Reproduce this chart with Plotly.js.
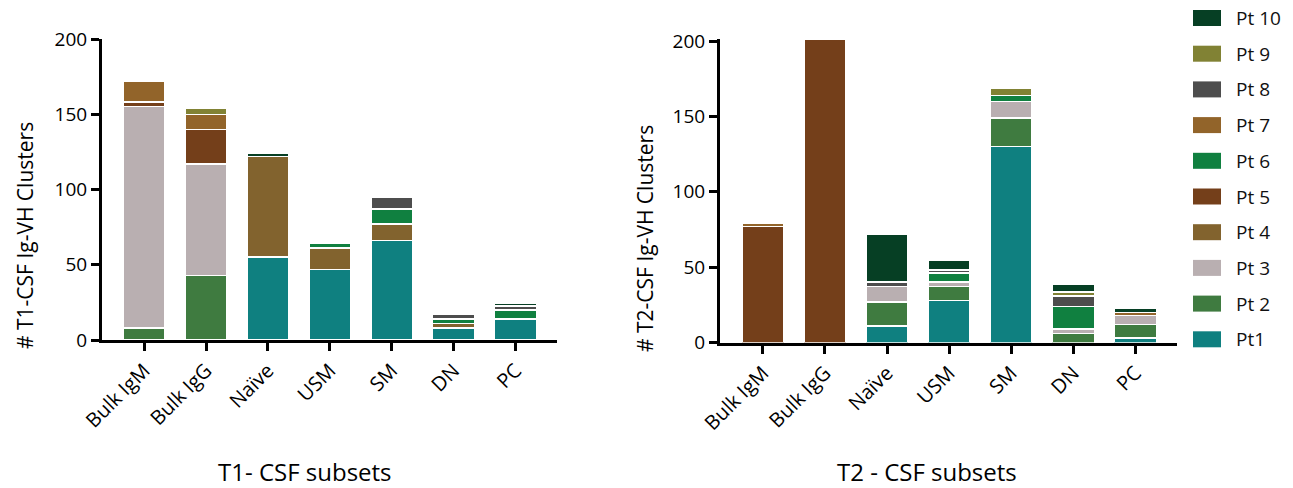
<!DOCTYPE html>
<html>
<head>
<meta charset="utf-8">
<script src="https://cdn.plot.ly/plotly-3.0.1.min.js"></script>
<style>
  html, body { margin: 0; padding: 0; background: #fff; }
  #chart { width: 1293px; height: 488px; }
</style>
</head>
<body>
<div id="chart"></div>
<script>
// ---------- DATA ----------
const categories = ['Bulk IgM', 'Bulk IgG', 'Naïve', 'USM', 'SM', 'DN', 'PC'];
const seriesNames = ['Pt1', 'Pt 2', 'Pt 3', 'Pt 4', 'Pt 5', 'Pt 6', 'Pt 7', 'Pt 8', 'Pt 9', 'Pt 10'];
const seriesColors = ['#0F8080', '#3F7B40', '#B9AFB1', '#82632E', '#743F1A', '#108040', '#92642A', '#4D4D4D', '#818234', '#063F24'];

// T1 - CSF subsets
const t1Pt1  = [null, null, 55, 47, 66, 8, 14];
const t1Pt2  = [8, 43, null, null, null, null, null];
const t1Pt3  = [147, 74, null, null, null, null, null];
const t1Pt4  = [null, null, 67, 14, 11, 3, null];
const t1Pt5  = [3, 23, null, null, null, null, null];
const t1Pt6  = [null, null, null, 3, 10, 3, 6];
const t1Pt7  = [14, 10, null, null, null, null, null];
const t1Pt8  = [null, null, null, null, 8, 3, 2.5];
const t1Pt9  = [null, 4, null, null, null, null, null];
const t1Pt10 = [null, null, 2, null, null, null, 2];

// T2 - CSF subsets
const t2Pt1  = [null, null, 11, 28, 130, null, 3];
const t2Pt2  = [null, null, 16, 9, 19, 6, 9];
const t2Pt3  = [null, null, 10, 3, 11, 3, 6];
const t2Pt4  = [null, null, null, null, null, null, null];
const t2Pt5  = [77, 201, null, null, null, null, null];
const t2Pt6  = [null, null, null, 6, 4, 15, null];
const t2Pt7  = [2, null, null, null, null, null, 2];
const t2Pt8  = [null, null, 3, 2, null, 7, null];
const t2Pt9  = [null, null, null, null, 5, 2.5, null];
const t2Pt10 = [null, null, 32, 6.5, null, 5, 2.5];

const yTicks = [0, 50, 100, 150, 200];

// ---------- BUILD ----------
const t1Series = [t1Pt1, t1Pt2, t1Pt3, t1Pt4, t1Pt5, t1Pt6, t1Pt7, t1Pt8, t1Pt9, t1Pt10];
const t2Series = [t2Pt1, t2Pt2, t2Pt3, t2Pt4, t2Pt5, t2Pt6, t2Pt7, t2Pt8, t2Pt9, t2Pt10];

const W = 1293, H = 488;
const FONT = '"Open Sans", "Noto Sans", sans-serif';
const px = v => v / W;
const py = v => 1 - v / H;

const traces = [];
seriesNames.forEach((name, i) => {
  traces.push({
    type: 'bar', name: name, x: categories, y: t1Series[i],
    xaxis: 'x', yaxis: 'y', showlegend: false,
    marker: { color: seriesColors[i], line: { color: '#ffffff', width: 1.5 } },
    hoverinfo: 'skip'
  });
  traces.push({
    type: 'bar', name: name, x: categories, y: t2Series[i],
    xaxis: 'x2', yaxis: 'y2', showlegend: false,
    marker: { color: seriesColors[i], line: { color: '#ffffff', width: 1.5 } },
    hoverinfo: 'skip'
  });
});

const xAxisBase = {
  type: 'category', showline: true, linewidth: 3, linecolor: '#000',
  ticks: 'outside', ticklen: 8, tickwidth: 3, tickcolor: '#000',
  tickangle: -45, tickfont: { family: FONT, size: 20, color: '#000' },
  showgrid: false, zeroline: false, automargin: false, fixedrange: true
};
const yAxisBase = {
  showline: true, linewidth: 3, linecolor: '#000',
  ticks: 'outside', ticklen: 8, tickwidth: 3, tickcolor: '#000',
  tickvals: yTicks, ticktext: yTicks.map(String),
  tickfont: { family: FONT, size: 19, color: '#000' },
  showgrid: false, zeroline: false, automargin: false, fixedrange: true
};

const shapes = [];
const annotations = [];

// axis titles
annotations.push({ xref: 'paper', yref: 'paper', x: px(25), y: py(236), xanchor: 'center', yanchor: 'middle',
  textangle: -90, showarrow: false, text: '# T1-CSF Ig-VH Clusters', font: { family: FONT, size: 21, color: '#000' } });
annotations.push({ xref: 'paper', yref: 'paper', x: px(645), y: py(239), xanchor: 'center', yanchor: 'middle',
  textangle: -90, showarrow: false, text: '# T2-CSF Ig-VH Clusters', font: { family: FONT, size: 21, color: '#000' } });
annotations.push({ xref: 'paper', yref: 'paper', x: px(305), y: py(471), xanchor: 'center', yanchor: 'middle',
  showarrow: false, text: 'T1- CSF subsets', font: { family: FONT, size: 24, color: '#000' } });
annotations.push({ xref: 'paper', yref: 'paper', x: px(927), y: py(471), xanchor: 'center', yanchor: 'middle',
  showarrow: false, text: 'T2 - CSF subsets', font: { family: FONT, size: 24, color: '#000' } });

// legend (top: Pt 10 ... bottom: Pt1)
for (let k = 0; k < seriesNames.length; k++) {
  const i = seriesNames.length - 1 - k;
  const cy = 18 + k * 35.7;
  shapes.push({ type: 'rect', xref: 'paper', yref: 'paper',
    x0: px(1193), x1: px(1221), y0: py(cy + 8), y1: py(cy - 8),
    fillcolor: seriesColors[i], line: { width: 0 } });
  annotations.push({ xref: 'paper', yref: 'paper', x: px(1234), y: py(cy), xanchor: 'left', yanchor: 'middle',
    showarrow: false, text: seriesNames[i], font: { family: FONT, size: 19, color: '#111' } });
}

const layout = {
  width: W, height: H,
  margin: { l: 0, r: 0, t: 0, b: 0, pad: 0 },
  paper_bgcolor: '#fff', plot_bgcolor: '#fff',
  barmode: 'stack', bargap: 0.325,
  showlegend: false,
  font: { family: FONT, color: '#000' },
  xaxis: Object.assign({}, xAxisBase, { domain: [px(102), px(557)], range: [-0.68, 6.67], anchor: 'y' }),
  yaxis: Object.assign({}, yAxisBase, { domain: [py(340), py(39)], range: [0, 200], anchor: 'x' }),
  xaxis2: Object.assign({}, xAxisBase, { domain: [px(720), px(1177)], range: [-0.69, 6.67], anchor: 'y2' }),
  yaxis2: Object.assign({}, yAxisBase, { domain: [py(342.5), py(38.8)], range: [0, 201.5], anchor: 'x2' }),
  shapes: shapes,
  annotations: annotations
};

Plotly.newPlot('chart', traces, layout, { staticPlot: true, displayModeBar: false });
</script>
</body>
</html>
